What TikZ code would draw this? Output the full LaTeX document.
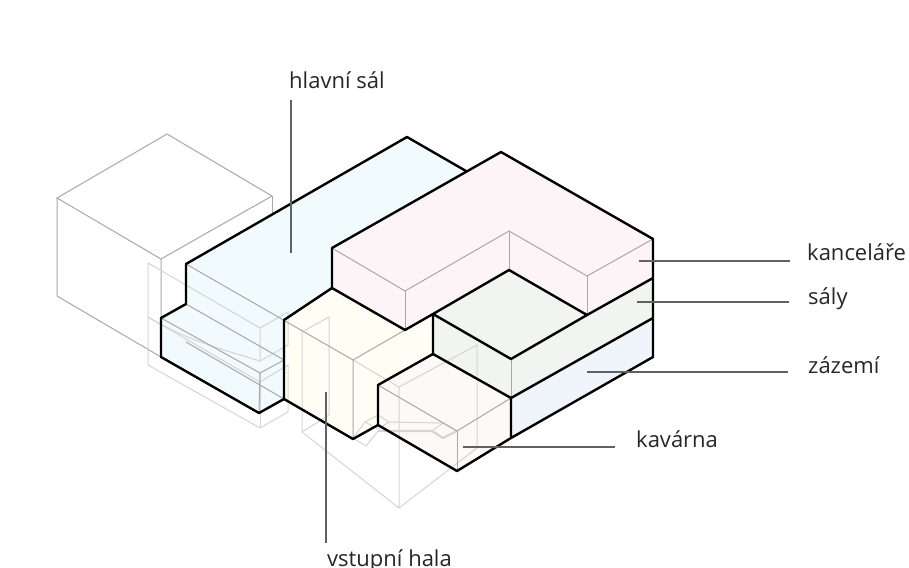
\documentclass[tikz,border=0pt]{standalone}
\usepackage{fontspec}
\setmainfont{Open Sans}
\tikzset{
  every picture/.style={x=1pt,y=-1pt},
  outline/.style={draw=black,line width=2.4pt,line join=round,line cap=round},
  edge/.style={draw=black!34,line width=1pt},
  ghost/.style={draw=black!17,line width=1pt},
  boldghost/.style={draw=black!17,line width=2.2pt,line join=round},
  leader/.style={draw=black!62,line width=1.2pt},
  label/.style={anchor=base west,inner sep=0pt,text=black!85,font=\fontsize{22}{26}\selectfont}
}
\definecolor{cblue}{HTML}{F1FAFD}
\definecolor{cpink}{HTML}{FDF4F8}
\definecolor{cgreen}{HTML}{F1F4F1}
\definecolor{clav}{HTML}{F0F4FB}
\definecolor{cyel}{HTML}{FEFEF5}
\definecolor{ccafe}{HTML}{FDF9F6}
\begin{document}
\begin{tikzpicture}
\useasboundingbox (0,0) rectangle (909,567);
% vertices
\coordinate (bt) at (407,137);
\coordinate (b1) at (186,264);
\coordinate (b2) at (186,304);
\coordinate (b3) at (161,318);
\coordinate (b4) at (161,357);
\coordinate (b5) at (259,413);
\coordinate (b6) at (284,399);
\coordinate (b7) at (284,320);
\coordinate (b8) at (332,288);
\coordinate (p1) at (332,248);
\coordinate (p2) at (501,152);
\coordinate (p3) at (653,239);
\coordinate (p4) at (653,278);
\coordinate (p5) at (587,315);
\coordinate (p6) at (509,270);
\coordinate (p7) at (433,314);
\coordinate (p8) at (405,330);
\coordinate (g1) at (511,359);
\coordinate (g2) at (433,354);
\coordinate (g3) at (511,398);
\coordinate (g4) at (653,318);
\coordinate (l1) at (653,357);
\coordinate (l2) at (511,438);
\coordinate (k1) at (378,385);
\coordinate (k2) at (457,471);
\coordinate (k3) at (378,425);
\coordinate (y1) at (353,439);
\coordinate (bj) at (466,171);
% fills
\fill[cblue] (bt)--(b1)--(b2)--(b3)--(b4)--(b5)--(b6)--(b7)--(b8)--(p1)--(bj)--cycle;
\fill[cyel] (b7)--(b8)--(p8)--(p7)--(g2)--(k1)--(k3)--(y1)--(b6)--cycle;
\fill[ccafe] (k1)--(g2)--(g3)--(l2)--(k2)--(k3)--cycle;
\fill[clav] (g3)--(g4)--(l1)--(l2)--cycle;
\fill[cgreen] (p7)--(p6)--(p5)--(p4)--(g4)--(g3)--(g2)--cycle;
\fill[cpink] (p1)--(p2)--(p3)--(p4)--(p5)--(p6)--(p7)--(p8)--(b8)--cycle;
% ghost: rear volume
\draw[edge] (161,259)--(57,198)--(167,134)--(272,196)--(161,259)--(161,318);
\draw[edge] (57,198)--(57,296)--(161,357);
\draw[edge] (272,196)--(272,214);
% ghost: left lower volume
\draw[ghost] (260,328)--(148,263)--(148,365)--(260,428)--(288,412)--(288,365);
\draw[ghost] (260,328)--(288,312)--(288,345)--(260,361)--(260,328);
\draw[ghost] (148,317) .. controls (190,342) and (225,350) .. (260,361);
\draw[ghost] (148,317)--(260,382);
\draw[ghost] (260,373)--(260,428);
\draw[ghost] (260,382)--(288,365);
% ghost: entrance volume
\draw[ghost] (329,317)--(302,332)--(302,432)--(399,508)--(477,448)--(477,345)--(399,387)--(399,508);
\draw[ghost] (329,317)--(329,415)--(302,432);
\draw[ghost] (353,360)--(399,387);
% stairs
\draw[ghost] (353,438)--(365,422)--(378,415)--(389,422)--(443,423)--(457,431);
\draw[ghost] (365,422)--(378,429)--(389,422);
\draw[ghost] (353,438)--(366,446)--(378,431);
\draw[ghost] (432,431)--(443,423);
\draw[boldghost] (378,431)--(432,431)--(443,438)--(457,431);
% edges
\draw[edge] (b1)--(353,360);
\draw[edge] (b3)--(260,373)--(284,360);
\draw[edge] (b2)--(284,360);
\draw[edge] (260,373)--(b5);
\draw[edge] (186,342)--(b6);
\draw[edge] (p8)--(353,360)--(y1);
\draw[edge] (p1)--(405,291)--(509,231)--(587,276)--(p3);
\draw[edge] (405,291)--(p8);
\draw[edge] (509,231)--(p6);
\draw[edge] (587,276)--(p5);
\draw[edge] (g1)--(g3);
\draw[edge] (k1)--(457,431)--(g3);
\draw[edge] (457,431)--(k2);
% outlines
\draw[outline] (p1)--(p2)--(p3)--(l1)--(l2)--(k2)--(k3)--(k1)--(g2)--(g3)--(l2);
\draw[outline] (bj)--(bt)--(b1)--(b2)--(b3)--(b4)--(b5)--(b6)--(b7)--(b8)--(p1);
\draw[outline] (b8)--(p8)--(p7)--(p6)--(p5)--(g1)--(p7)--(g2);
\draw[outline] (p5)--(p4);
\draw[outline] (g3)--(g4);
\draw[outline] (b6)--(y1)--(k3);
% labels
\node[label] (hlavni) at (289,89) {hlavní sál};
\node[label] (kanc) at (807,260) {kanceláře};
\node[label] (saly) at (808,304) {sály};
\node[label] (zaz) at (808,373) {zázemí};
\node[label] (kav) at (636,447) {kavárna};
\node[label] (vst) at (327,566) {vstupní hala};
% leaders
\coordinate (a1) at (291,100); \coordinate (a2) at (291,253);
\coordinate (c1) at (790,261); \coordinate (c2) at (639,261);
\coordinate (d1) at (789,302); \coordinate (d2) at (637,302);
\coordinate (e1) at (788,372); \coordinate (e2) at (587,372);
\coordinate (f1) at (615,447); \coordinate (f2) at (463,447);
\coordinate (h1) at (326,543); \coordinate (h2) at (326,392);
\draw[leader] (a1)--(a2);
\draw[leader] (c1)--(c2);
\draw[leader] (d1)--(d2);
\draw[leader] (e1)--(e2);
\draw[leader] (f1)--(f2);
\draw[leader] (h1)--(h2);
\end{tikzpicture}
\end{document}
